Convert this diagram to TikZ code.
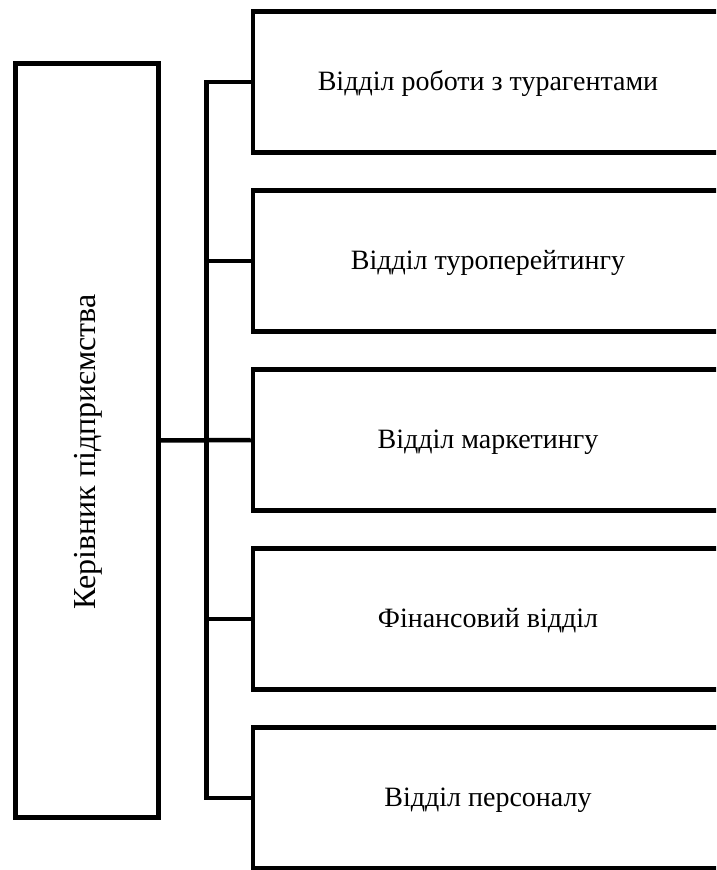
\documentclass[tikz,border=0pt]{standalone}
\usepackage{fontspec}
\setmainfont{Liberation Serif}
\begin{document}
\begin{tikzpicture}[x=1pt,y=-1pt,
  dept/.style={draw,line width=4.5pt,minimum width=470pt,minimum height=141pt,inner sep=0pt,
    font=\fontsize{28}{34}\selectfont,text height=20pt,text depth=2.4pt},
  headbox/.style={draw,line width=4.5pt,minimum width=143pt,minimum height=754pt,inner sep=0pt},
  headtext/.style={rotate=90,inner sep=0pt,font=\fontsize{32}{38}\selectfont,text height=21pt,text depth=0pt},
  link/.style={line width=4.5pt}]
\useasboundingbox (0,0) rectangle (716,870);
\clip (0,0) rectangle (716,870);
\node[headbox] (lead) at (86.8,440.4) {};
\node[headtext] (leadtext) at (85,452) {Керівник підприємства};
\node[dept] (d1) at (488,82.1) {Відділ роботи з турагентами};
\node[dept] (d2) at (488,261.1) {Відділ туроперейтингу};
\node[dept] (d3) at (488,440.1) {Відділ маркетингу};
\node[dept] (d4) at (488,619.1) {Фінансовий відділ};
\node[dept] (d5) at (488,798.1) {Відділ персоналу};
\coordinate (bt) at (206.3,82.1);
\coordinate (bb) at (206.3,798.1);
\draw[link] (d1.west) -- (bt) -- (bb) -- (d5.west);
\draw[link] (d2.west) -- (bt |- d2.west);
\draw[link] (d4.west) -- (bt |- d4.west);
\draw[link] (lead.east) -- (d3.west);
\end{tikzpicture}
\end{document}
